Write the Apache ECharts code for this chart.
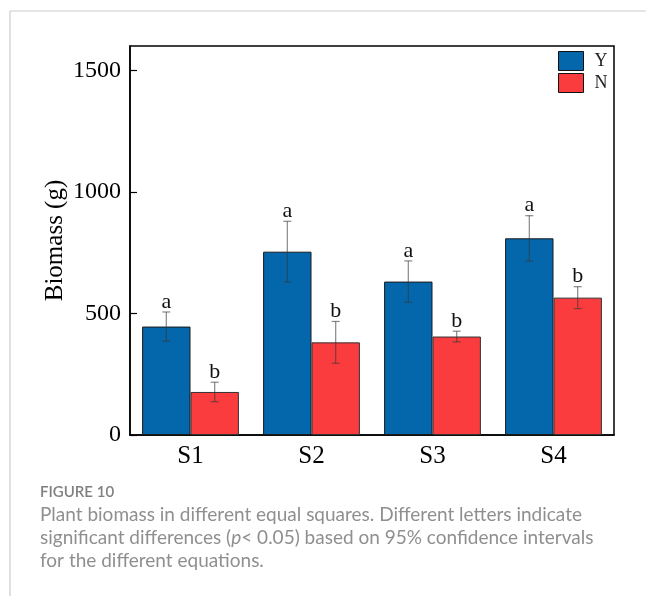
<!DOCTYPE html>
<html>
<head>
<meta charset="utf-8">
<script src="https://cdn.jsdelivr.net/npm/echarts@6/dist/echarts.min.js"></script>
<style>
html,body{margin:0;padding:0;background:#fff;}
#chart{width:646px;height:596px;}
</style>
</head>
<body>
<div id="chart"></div>
<script>
// ---- data ----
const categories = ['S1', 'S2', 'S3', 'S4'];
const seriesNames = ['Y', 'N'];
const meanY = [446, 754, 631, 809];
const errY  = [60, 125, 85, 93];
const letterY = ['a', 'a', 'a', 'a'];
const meanN = [177, 381, 405, 565];
const errN  = [40, 86, 22, 45];
const letterN = ['b', 'b', 'b', 'b'];
const yTicks = [0, 500, 1000, 1500];

const colorY = '#0567AB';
const colorN = '#FB3C3E';
const serif = '"Liberation Serif", "Times New Roman", serif';
const capFont = 'Lato, "Open Sans", sans-serif';

function errSeries(means, errs, letters, offFrac) {
  return {
    type: 'custom',
    z: 5,
    silent: true,
    data: means.map((m, i) => [i, m, errs[i]]),
    renderItem: function (params, api) {
      const idx = api.value(0), m = api.value(1), e = api.value(2);
      const band = api.size([1, 0])[0];
      const off = offFrac * band;
      const top = api.coord([idx, m + e]);
      const bot = api.coord([idx, m - e]);
      const cx = top[0] + off;
      const cw = 4;
      const st = { stroke: 'rgba(55,55,55,0.6)', lineWidth: 1.2 };
      return {
        type: 'group',
        children: [
          { type: 'line', shape: { x1: cx, y1: top[1], x2: cx, y2: bot[1] }, style: st },
          { type: 'line', shape: { x1: cx - cw, y1: top[1], x2: cx + cw, y2: top[1] }, style: st },
          { type: 'line', shape: { x1: cx - cw, y1: bot[1], x2: cx + cw, y2: bot[1] }, style: st },
          { type: 'text', x: cx, y: top[1] + 1,
            style: { text: letters[params.dataIndex], fill: '#111', font: '22px ' + serif,
                     textAlign: 'center', textVerticalAlign: 'bottom' } }
        ]
      };
    }
  };
}

const chart = echarts.init(document.getElementById('chart'));
chart.setOption({
  animation: false,
  backgroundColor: '#fff',
  grid: { left: 130, right: 32, top: 46, bottom: 161, show: true, borderColor: '#000', borderWidth: 1.5, backgroundColor: 'transparent' },
  legend: {
    data: seriesNames,
    orient: 'vertical',
    left: 558, top: 51, padding: 0,
    itemWidth: 25, itemHeight: 19, itemGap: 2,
    icon: 'rect',
    textStyle: { fontFamily: serif, fontSize: 18, color: '#222', padding: [0, 0, 0, 6] },
    itemStyle: { borderColor: '#111', borderWidth: 1 }
  },
  xAxis: {
    type: 'category',
    data: categories,
    axisLine: { lineStyle: { color: '#000', width: 1.5 } },
    axisTick: { show: false },
    axisLabel: { fontFamily: serif, fontSize: 25, color: '#000', margin: 9 }
  },
  yAxis: {
    type: 'value',
    min: 0, max: 1600, interval: 500,
    name: 'Biomass (g)',
    nameLocation: 'middle',
    nameRotate: 90,
    nameGap: 62,
    nameMoveOverlap: false,
    nameTextStyle: { fontFamily: serif, fontSize: 25, color: '#000' },
    axisLine: { show: true, lineStyle: { color: '#000', width: 1.5 } },
    axisTick: { show: true, inside: true, length: 7, lineStyle: { color: '#000', width: 1.2 } },
    splitLine: { show: false },
    axisLabel: {
      fontFamily: serif, fontSize: 24, color: '#000', margin: 9, showMaxLabel: false,
      formatter: v => (yTicks.indexOf(v) >= 0 ? String(v) : '')
    }
  },
  series: [
    { name: 'Y', type: 'bar', data: meanY, barGap: '0%', barCategoryGap: '20%',
      itemStyle: { color: colorY, borderColor: '#1a1a1a', borderWidth: 1 } },
    { name: 'N', type: 'bar', data: meanN, barGap: '0%', barCategoryGap: '20%',
      itemStyle: { color: colorN, borderColor: '#333', borderWidth: 1 } },
    errSeries(meanY, errY, letterY, -0.2),
    errSeries(meanN, errN, letterN, 0.2)
  ],
  graphic: [
    { type: 'line', shape: { x1: 10, y1: 11, x2: 646, y2: 11 }, style: { stroke: '#cccccc', lineWidth: 1.2 }, silent: true },
    { type: 'line', shape: { x1: 10, y1: 11, x2: 10, y2: 596 }, style: { stroke: '#cccccc', lineWidth: 1.2 }, silent: true },
    { type: 'text', left: 40, top: 485, style: { text: 'FIGURE 10', font: '600 15px ' + capFont, fill: '#808080' } },
    { type: 'text', left: 40, top: 505, style: { text: 'Plant biomass in different equal squares. Different letters indicate', font: '19px ' + capFont, fill: '#8f8f8f' } },
    { type: 'text', left: 40, top: 528, style: {
        text: '{n|significant differences (}{i|p}{n|< 0.05) based on 95% confidence intervals}',
        rich: {
          n: { font: '19px ' + capFont, fill: '#8f8f8f' },
          i: { font: 'italic 19px ' + capFont, fill: '#8f8f8f' }
        } } },
    { type: 'text', left: 40, top: 551, style: { text: 'for the different equations.', font: '19px ' + capFont, fill: '#8f8f8f' } }
  ]
});
</script>
</body>
</html>
